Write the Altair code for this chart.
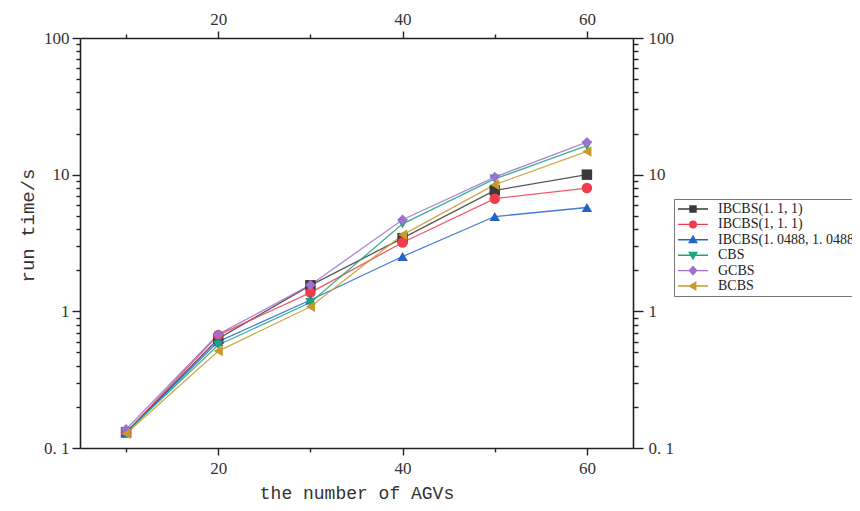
import altair as alt
import pandas as pd

# ---- data ----
agvs = [10, 20, 30, 40, 50, 60]
series_names = ["IBCBS(1. 1, 1)", "IBCBS(1, 1. 1)", "IBCBS(1. 0488, 1. 0488)", "CBS", "GCBS", "BCBS"]
t_ibcbs_a = [0.13, 0.63, 1.55, 3.43, 7.67, 10.0]
t_ibcbs_b = [0.13, 0.67, 1.37, 3.19, 6.67, 7.98]
t_ibcbs_c = [0.13, 0.60, 1.21, 2.52, 4.94, 5.75]
t_cbs = [0.13, 0.567, 1.16, 4.37, 9.3, 16.3]
t_gcbs = [0.137, 0.678, 1.56, 4.68, 9.6, 17.3]
t_bcbs = [0.127, 0.512, 1.08, 3.63, 8.45, 14.8]

series_values = [t_ibcbs_a, t_ibcbs_b, t_ibcbs_c, t_cbs, t_gcbs, t_bcbs]
colors = ["#3a3a3a", "#f03c4c", "#2464c8", "#1ea47c", "#9c72d0", "#c99a2a"]
shapes = ["square", "circle", "triangle-up", "triangle-down", "diamond", "triangle-left"]
legend_paths = [
    "M-1,0H1M-0.2,-0.2H0.2V0.2H-0.2Z",
    "M-1,0H1M0.22,0A0.22,0.22 0 1,1 -0.22,0A0.22,0.22 0 1,1 0.22,0Z",
    "M-1,0H1M0,-0.24L0.25,0.18L-0.25,0.18Z",
    "M-1,0H1M0,0.24L0.25,-0.18L-0.25,-0.18Z",
    "M-1,0H1M0,-0.27L0.24,0L0,0.27L-0.24,0Z",
    "M-1,0H1M-0.24,0L0.18,-0.25L0.18,0.25Z",
]

x_ticks = [10, 20, 30, 40, 50, 60]
x_major = [20, 40, 60]
y_ticks = [0.1, 0.2, 0.3, 0.4, 0.5, 0.6, 0.7, 0.8, 0.9,
           1, 2, 3, 4, 5, 6, 7, 8, 9,
           10, 20, 30, 40, 50, 60, 70, 80, 90, 100]
y_major = [0.1, 1, 10, 100]
y_major_labels = ["0. 1", "1", "10", "100"]

rows = []
for name, vals in zip(series_names, series_values):
    for a, v in zip(agvs, vals):
        rows.append({"agv": a, "time": v, "series": name})
df = pd.DataFrame(rows)

# ---- styling ----
LABEL_FONT = "Liberation Serif"
TITLE_FONT = "Liberation Mono"
AX = "#222222"

x_major_test = " || ".join(f"datum.value == {v}" for v in x_major)
y_major_test = " || ".join(f"abs(datum.value - {v}) < {v}*1e-6" for v in y_major)
y_label_expr = "".join(
    f"abs(datum.value - {v}) < {v}*1e-6 ? '{lab}' : " for v, lab in zip(y_major, y_major_labels)
) + "''"
x_label_expr = f"({x_major_test}) ? datum.label : ''"


def common_axis(**kw):
    base = dict(
        domainColor=AX, domainWidth=1.6, tickColor=AX, tickWidth=1.4,
        labelFont=LABEL_FONT, labelFontSize=17, labelColor="#333333",
        grid=False,
    )
    base.update(kw)
    return alt.Axis(**base)


bottom_axis = common_axis(
    orient="bottom", values=x_ticks, labelExpr=x_label_expr,
    tickSize={"condition": {"test": x_major_test, "value": 7}, "value": 4},
    labelPadding=5, labelFlush=False,
    title="the number of AGVs", titleFont=TITLE_FONT, titleFontSize=18,
    titleFontWeight="normal", titleColor="#333333", titleY=45, titleBaseline="middle",
)
top_axis = common_axis(
    orient="top", values=x_ticks, labelExpr=x_label_expr,
    tickSize={"condition": {"test": x_major_test, "value": 7}, "value": 4},
    labelPadding=3, labelFlush=False, title=None,
)
left_axis = common_axis(
    orient="left", values=y_ticks, labelExpr=y_label_expr,
    tickSize={"condition": {"test": y_major_test, "value": 8}, "value": 4},
    labelPadding=3, labelFlush=False,
    title="run time/s", titleFont=TITLE_FONT, titleFontSize=19,
    titleFontWeight="normal", titleColor="#333333",
    titleX=-53, titleY=187, titleAngle=-90, titleBaseline="middle", titleAlign="center",
)
right_axis = common_axis(
    orient="right", values=y_ticks, labelExpr=y_label_expr,
    tickSize={"condition": {"test": y_major_test, "value": 10}, "value": 5},
    labelPadding=5, labelFlush=False, title=None,
)

x_scale = alt.Scale(domain=[5, 65], nice=False, zero=False)
y_scale = alt.Scale(type="log", domain=[0.1, 100], nice=False)
color_scale = alt.Scale(domain=series_names, range=colors)

base = alt.Chart(df)

lines = base.mark_line(strokeWidth=1.3, opacity=0.85).encode(
    x=alt.X("agv:Q", scale=x_scale, axis=bottom_axis),
    y=alt.Y("time:Q", scale=y_scale, axis=left_axis),
    color=alt.Color("series:N", scale=color_scale, legend=None),
)

points = base.mark_point(filled=True, size=110, opacity=1).encode(
    x=alt.X("agv:Q", scale=x_scale, axis=top_axis),
    y=alt.Y("time:Q", scale=y_scale, axis=right_axis),
    color=alt.Color("series:N", scale=color_scale, legend=None),
    shape=alt.Shape("series:N", scale=alt.Scale(domain=series_names, range=shapes), legend=None),
    order=alt.Order("idx:Q"),
)

legend_kw = dict(
    orient="none", legendX=594, legendY=161, title=None,
    symbolSize=900, symbolStrokeWidth=1.4, symbolOpacity=1, clipHeight=14, rowPadding=1.4,
    labelFont=LABEL_FONT, labelFontSize=14, labelColor="#222222", labelOffset=9,
    labelLimit=400, padding=3, strokeColor="#777777", fillColor="white",
)

legend_layer = base.mark_point(filled=True, size=0, opacity=1).encode(
    x=alt.X("agv:Q", scale=x_scale, axis=None),
    y=alt.Y("time:Q", scale=y_scale, axis=None),
    fill=alt.Fill("series:N", scale=alt.Scale(domain=series_names, range=colors), legend=alt.Legend(**legend_kw)),
    stroke=alt.Stroke("series:N", scale=alt.Scale(domain=series_names, range=colors), legend=alt.Legend(**legend_kw)),
    shape=alt.Shape("series:N", scale=alt.Scale(domain=series_names, range=legend_paths), legend=alt.Legend(**legend_kw)),
)

chart = (
    alt.layer(lines, points, legend_layer)
    .transform_calculate(idx="indexof(" + str(series_names).replace('"', "'") + ", datum.series)")
    .resolve_scale(shape="independent", fill="independent", stroke="independent")
    .resolve_axis(x="independent", y="independent")
    .properties(
        width=553, height=410,
        autosize=alt.AutoSizeParams(type="none"),
        padding={"left": 72, "top": 30, "right": 219, "bottom": 55},
        background="white",
    )
    .configure_view(stroke=None)
)

chart.save("out.html", embed_options={"renderer": "svg", "actions": False})
